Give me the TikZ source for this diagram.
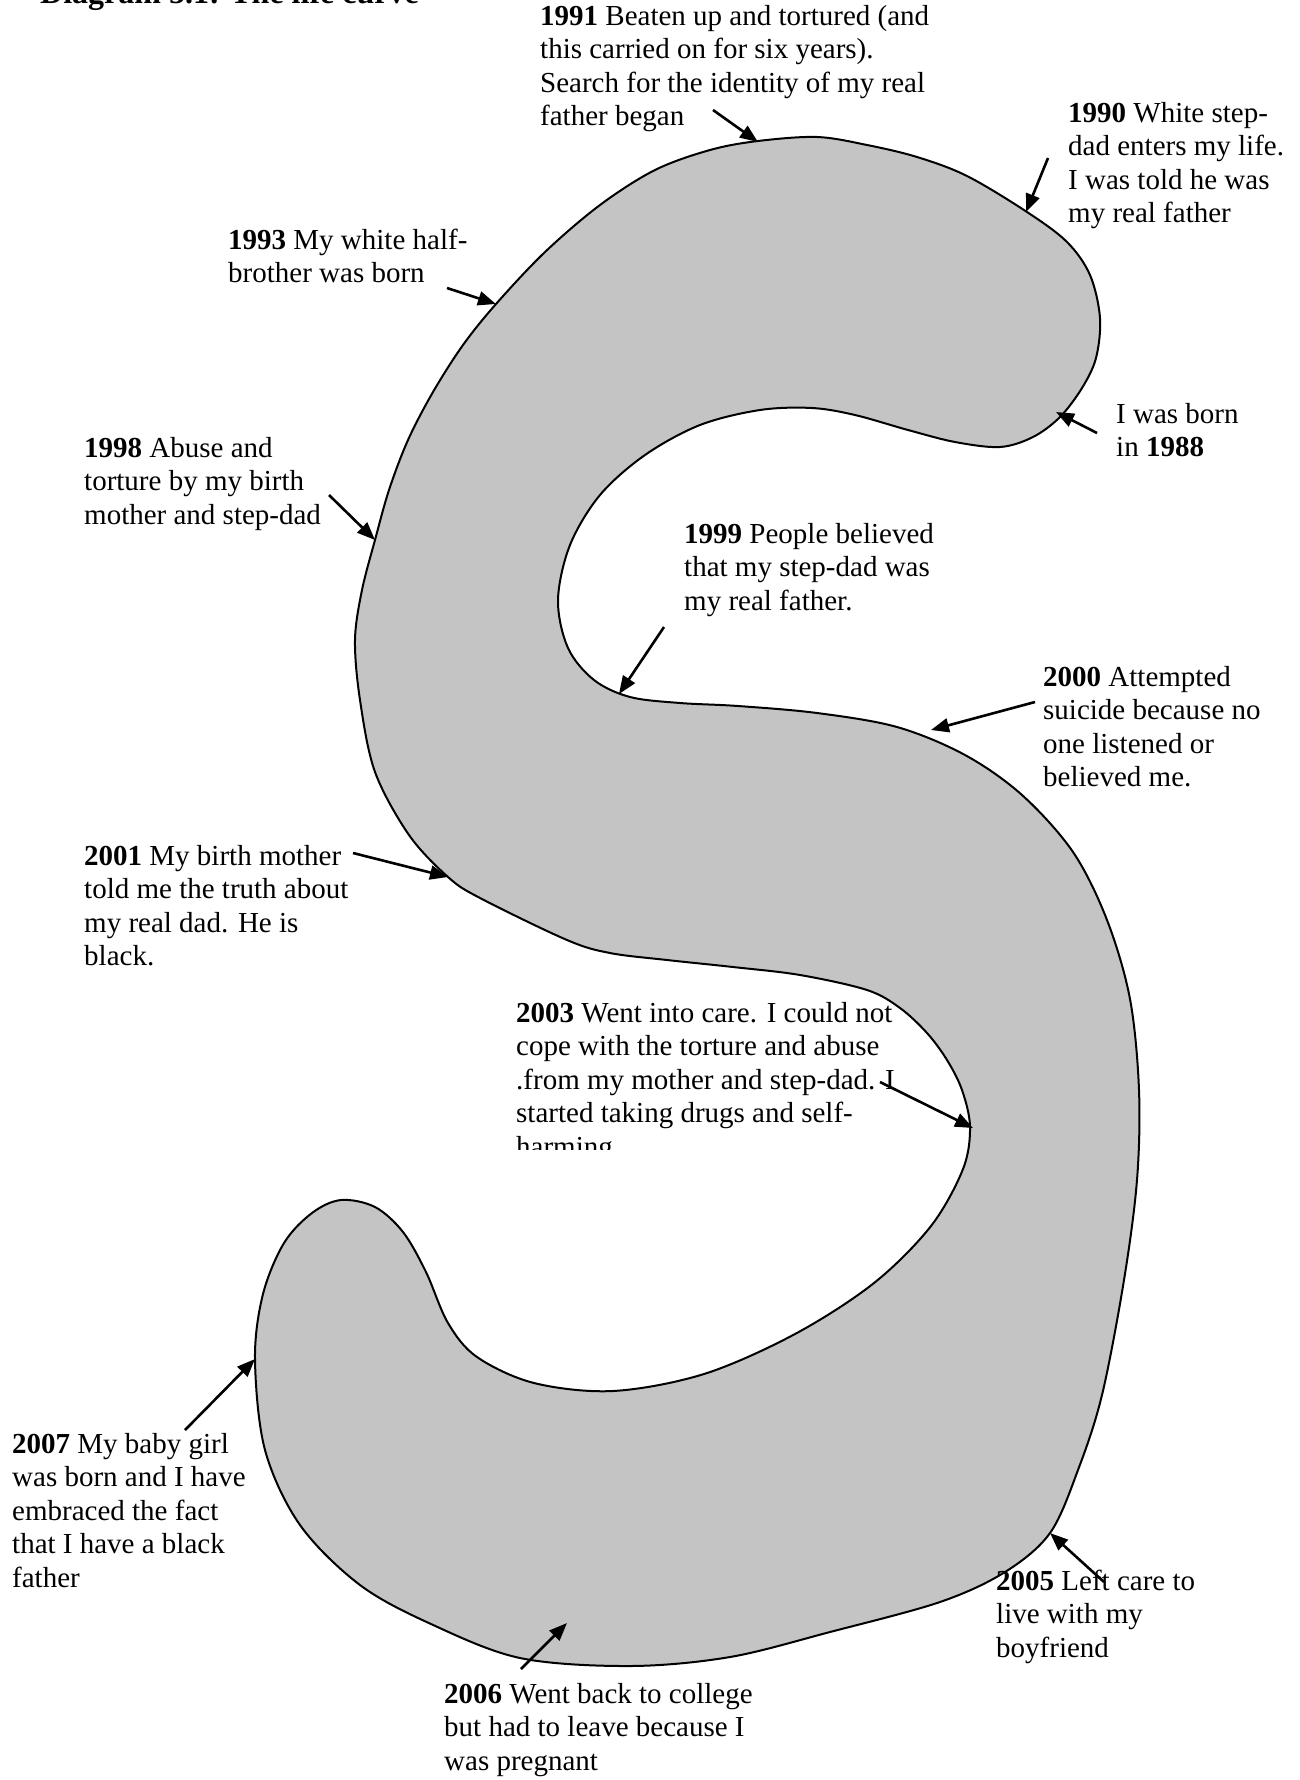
\documentclass[tikz,border=0pt]{standalone}
\usepackage{fontspec}
\setmainfont{Liberation Serif}
\usetikzlibrary{arrows.meta}
\begin{document}
\begin{tikzpicture}[x=1pt,y=-1pt,
  lbl/.style={anchor=base west, inner sep=0pt, align=left, font=\fontsize{29}{33.5}\selectfont},
  ptr/.style={line width=2.6pt, -{Triangle[length=18pt,width=14pt]}},
  curvebody/.style={line width=2pt, fill=black!23, draw=black}]
\useasboundingbox (0,0) rectangle (1300,1780);
\fill[white] (0,0) rectangle (1300,1780);

% title (cut by the page edge)
\node[anchor=base west, inner sep=0pt, font=\fontsize{32}{36}\selectfont\bfseries] (title) at (40,4) {Diagram 5.1: The life curve};

% the S shaped life curve
\draw[curvebody] plot[smooth cycle, tension=0.55] coordinates {
(496,304) (545,252) (600,205) (655,170) (710,150) (758,141) (817,137) (867,145)
(917,157) (967,176) (1027,212) (1067,242) (1090,275) (1100,318) (1096,358) (1082,388)
(1060,417) (1033,437) (1000,447) (955,442) (908,430) (855,415) (812,408) (760,410)
(700,425) (645,455) (600,495) (570,545) (558,600) (568,648) (594,680) (630,697)
(680,703) (738,706) (817,713) (897,727) (965,755) (1022,795) (1073,852) (1107,920)
(1130,999) (1139,1090) (1137,1180) (1124,1280) (1102,1395) (1078,1470) (1050,1533)
(1005,1572) (940,1602) (830,1632) (730,1657) (630,1666) (520,1658) (431,1624)
(360,1585) (300,1525) (265,1450) (255,1359)
(263,1294) (284,1243) (312,1213) (341,1200) (375,1207) (403,1232) (426,1272)
(448,1323) (477,1357) (534,1383) (613,1391) (704,1374) (795,1334) (874,1283)
(931,1226) (963,1169) (970,1127) (962,1090) (947,1060) (927,1033) (900,1008)
(867,990) (800,975) (733,967) (667,960) (610,953) (567,940) (480,898) (448,877)
(409,835) (375,772) (360,700) (355,640) (362,590) (375,540) (389,490)
(408,440) (433,392) (463,345)};

% labels (anchor = baseline of the last line)
\node[lbl] (t1991) at (540,125.5) {\textbf{1991} Beaten up and tortured (and\\this carried on for six years).\\Search for the identity of my real\\father began};
\node[lbl] (t1990) at (1068,222.5) {\textbf{1990} White step-\\dad enters my life.\\I was told he was\\my real father};
\node[lbl] (t1993) at (228,282.5) {\textbf{1993} My white half-\\brother was born};
\node[lbl] (t1988) at (1116,456.5) {I was born\\in \textbf{1988}};
\node[lbl] (t1998) at (84,524) {\textbf{1998} Abuse and\\torture by my birth\\mother and step-dad};
\node[lbl] (t1999) at (684,610) {\textbf{1999} People believed\\that my step-dad was\\my real father.};
\node[lbl] (t2000) at (1043,786.5) {\textbf{2000} Attempted\\suicide because no\\one listened or\\believed me.};
\node[lbl] (t2001) at (84,965.5) {\textbf{2001} My birth mother\\told me the truth about\\my real dad. He is\\black.};
\begin{scope}
\clip (500,985) rectangle (1000,1149);
\node[lbl] (t2003) at (516,1156) {\textbf{2003} Went into care. I could not\\cope with the torture and abuse\\.from my mother and step-dad. I\\started taking drugs and self-\\harming};
\end{scope}
\node[lbl] (t2007) at (12,1587) {\textbf{2007} My baby girl\\was born and I have\\embraced the fact\\that I have a black\\father};
\node[lbl] (t2005) at (996,1657) {\textbf{2005} Left care to\\live with my\\boyfriend};
\node[lbl] (t2006) at (444,1770) {\textbf{2006} Went back to college\\but had to leave because I\\was pregnant};

% arrow ends
\coordinate (s1991) at (713,110);  \coordinate (e1991) at (758,142);
\coordinate (s1990) at (1048,158); \coordinate (e1990) at (1026,212);
\coordinate (s1993) at (447,288);  \coordinate (e1993) at (496,304);
\coordinate (s1988) at (1097,433); \coordinate (e1988) at (1056,412);
\coordinate (s1998) at (329,495);  \coordinate (e1998) at (375,540);
\coordinate (s1999) at (664,627);  \coordinate (e1999) at (619,694);
\coordinate (s2000) at (1035,702); \coordinate (e2000) at (931,730);
\coordinate (s2001) at (353,853);  \coordinate (e2001) at (448,877);
\coordinate (s2003) at (880,1082); \coordinate (e2003) at (973,1128);
\coordinate (s2007) at (185,1430); \coordinate (e2007) at (255,1359);
\coordinate (s2005) at (1104,1582);\coordinate (e2005) at (1050,1533);
\coordinate (s2006) at (521,1669); \coordinate (e2006) at (567,1623);

\foreach \y in {1991,1990,1993,1988,1998,1999,2000,2001,2003,2007,2005,2006}
  \draw[ptr] (s\y) -- (e\y);
\end{tikzpicture}
\end{document}
